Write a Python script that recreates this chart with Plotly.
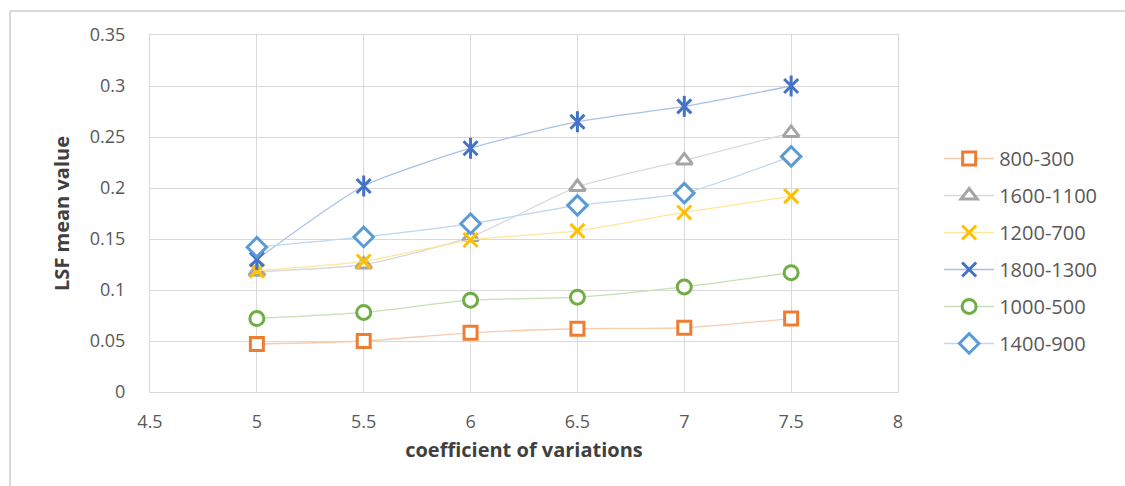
import plotly.graph_objects as go

# Coefficient of variation values on the x axis
cov = [5, 5.5, 6, 6.5, 7, 7.5]

# LSF mean value for each load range
lsf_800_300 = [0.047, 0.050, 0.058, 0.062, 0.063, 0.072]
lsf_1600_1100 = [0.118, 0.125, 0.152, 0.201, 0.227, 0.254]
lsf_1200_700 = [0.119, 0.128, 0.149, 0.158, 0.176, 0.192]
lsf_1800_1300 = [0.130, 0.202, 0.239, 0.265, 0.280, 0.300]
lsf_1000_500 = [0.072, 0.078, 0.090, 0.093, 0.103, 0.117]
lsf_1400_900 = [0.142, 0.152, 0.165, 0.183, 0.195, 0.231]

y_ticks = [0, 0.05, 0.1, 0.15, 0.2, 0.25, 0.3, 0.35]
x_ticks = [4.5, 5, 5.5, 6, 6.5, 7, 7.5, 8]

# name, values, marker colour, line colour, symbol, size, white fill
series = [
    ("800-300", lsf_800_300, "#ED7D31", "#F8CBAD", "square", 13, True),
    ("1600-1100", lsf_1600_1100, "#A5A5A5", "#D9D9D9", "triangle-up", 14, True),
    ("1200-700", lsf_1200_700, "#FFC000", "#FFE699", "x-thin-open", 14, False),
    ("1800-1300", lsf_1800_1300, "#4472C4", "#A9C0E8", "x-thin-open", 14, False),
    ("1000-500", lsf_1000_500, "#70AD47", "#C5E0B4", "circle", 14, True),
    ("1400-900", lsf_1400_900, "#5B9BD5", "#BDD7EE", "diamond", 15, True),
]

FONT = "Open Sans, Liberation Sans, sans-serif"

fig = go.Figure()
for name, vals, mcol, lcol, sym, size, filled in series:
    marker = dict(symbol=sym, size=size, color="white" if filled else mcol,
                  line=dict(color=mcol, width=3))
    # smoothed data line with markers
    fig.add_trace(go.Scatter(
        x=cov, y=vals, name=name, mode="lines+markers", legendgroup=name,
        line=dict(color=lcol, width=1.3, shape="spline", smoothing=0.6),
        marker=marker,
    ))
    if name == "1800-1300":
        # vertical stroke completing the star marker
        fig.add_trace(go.Scatter(
            x=cov, y=vals, mode="markers", showlegend=False, hoverinfo="skip",
            legendgroup=name,
            marker=dict(symbol="line-ns-open", size=15, color=mcol,
                        line=dict(color=mcol, width=3)),
        ))

tick_font = dict(family=FONT, size=18, color="#595959")
title_font = dict(family=FONT, size=20, color="#404040")

fig.update_layout(
    width=1125, height=486,
    margin=dict(l=150, r=227, t=35, b=94),
    paper_bgcolor="white", plot_bgcolor="white",
    showlegend=True,
    legend=dict(
        x=1.055, y=0.395, xanchor="left", yanchor="middle",
        font=dict(family=FONT, size=20, color="#595959"),
        tracegroupgap=8, itemwidth=50,
    ),
    xaxis=dict(
        range=[4.5, 8], tickvals=x_ticks, ticktext=[f"{v:g}" for v in x_ticks],
        showgrid=True, gridcolor="#D9D9D9", gridwidth=1,
        zeroline=False, showline=True, linecolor="#D9D9D9", mirror=True,
        tickfont=tick_font, ticks="", ticklabelstandoff=13,
        title=dict(text="<b>coefficient of variations</b>", font=title_font, standoff=11),
    ),
    yaxis=dict(
        range=[0, 0.35], tickvals=y_ticks, ticktext=[f"{v:g}" for v in y_ticks],
        showgrid=True, gridcolor="#D9D9D9", gridwidth=1,
        zeroline=False, showline=True, linecolor="#D9D9D9", mirror=True,
        tickfont=tick_font, ticks="", ticklabelstandoff=20,
        title=dict(text="<b>LSF mean value</b>", font=title_font, standoff=14),
    ),
    shapes=[
        dict(type="line", xref="paper", yref="paper",
             x0=-140 / 748, x1=1.5, y0=(486 - 94 - 11) / 357, y1=(486 - 94 - 11) / 357,
             line=dict(color="#D9D9D9", width=2)),
        dict(type="line", xref="paper", yref="paper",
             x0=-140 / 748, x1=-140 / 748, y0=-1, y1=(486 - 94 - 11) / 357,
             line=dict(color="#D9D9D9", width=2)),
    ],
)

fig.write_html("out.html")
